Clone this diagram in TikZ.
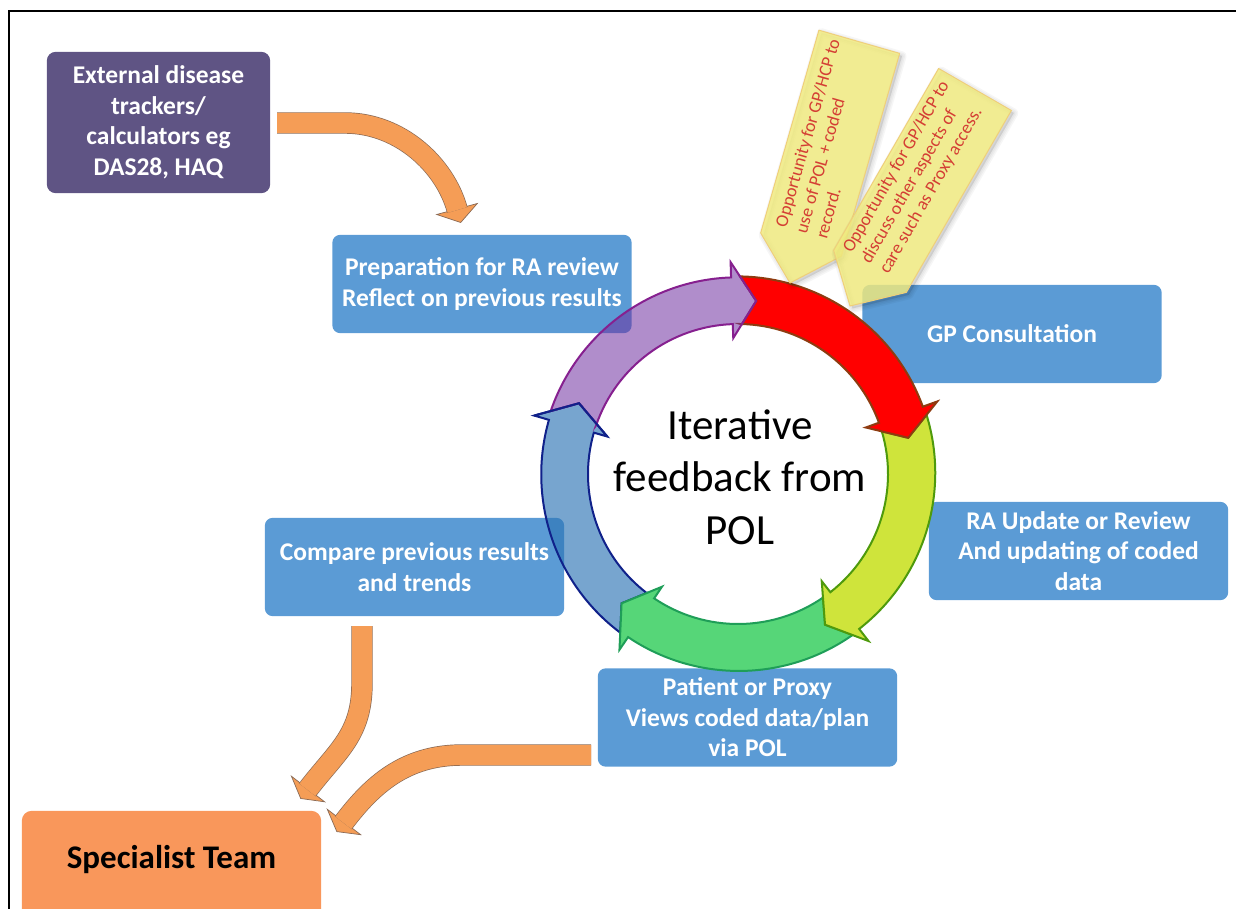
\documentclass[tikz,border=0pt]{standalone}
\usepackage{fontspec}
\setmainfont{Carlito}
\usetikzlibrary{calc}
\pgfdeclarelayer{bg}
\pgfdeclarelayer{ring}
\pgfsetlayers{bg,ring,main}
\definecolor{boxblue}{HTML}{5B9BD5}
\definecolor{boxpurple}{HTML}{5F5484}
\definecolor{orangefill}{HTML}{F59D56}
\definecolor{orangeline}{HTML}{8A6A55}
\definecolor{specorange}{HTML}{F9975B}
\definecolor{notefill}{HTML}{F4EE80}
\definecolor{noteline}{HTML}{EFCF7A}
\definecolor{notetext}{HTML}{D43E34}
\definecolor{rpurple}{HTML}{7030A0}
\definecolor{rpurpleL}{HTML}{86208F}
\definecolor{rred}{HTML}{FF0000}
\definecolor{rredL}{HTML}{8E3B10}
\definecolor{ryellow}{HTML}{CFE43B}
\definecolor{ryellowL}{HTML}{4E9A0C}
\definecolor{rgreen}{HTML}{56D678}
\definecolor{rgreenL}{HTML}{1F9E58}
\definecolor{rblue}{HTML}{2E75B6}
\definecolor{rblueL}{HTML}{10218A}
% fill, stroke, opacity, prev base, prev tip, base, tip
\newcommand\ringseg[7]{%
  \path[fill=#1, draw=#2, fill opacity=#3, line width=2pt, line join=miter]
    ($(#4:212pt)!0.368!(#5:174pt)$) arc[start angle={#4-2.95}, end angle=#6, radius=198pt]
    -- (#6:212pt) -- (#7:174pt) -- (#6:136pt) -- (#6:150pt)
    arc[start angle=#6, end angle={#4-2.95}, radius=150pt]
    -- ($(#4:136pt)!0.368!(#5:174pt)$) -- (#5:174pt) -- cycle;}
\newcommand\notepath[1]{(0,0) -- (40,-42) -- (#1,-42) -- (#1,42) -- (40,42) -- cycle}
\tikzset{
  boxtxt/.style={text=white, font=\bfseries\fontsize{25.5}{30.5}\selectfont, align=center,
    minimum width=299pt, minimum height=98pt, inner sep=0pt},
  notetxt/.style={text=notetext, font=\fontsize{18}{21}\selectfont, align=left, inner sep=0pt},
  band/.style={draw=orangeline, line width=0.7pt, double=orangefill, double distance=20pt},
  bandhead/.style={fill=orangefill, draw=orangeline, line width=0.7pt, line join=miter},
  notebox/.style={fill=notefill, fill opacity=0.82, draw=noteline, line width=1pt, line join=round},
  noteshadow/.style={draw=black, fill=black, opacity=0.035, line join=round},
}
\begin{document}
\begin{tikzpicture}[x=1pt, y=-1pt]
\useasboundingbox (0,0) rectangle (1236,909);

% boxes (text on main layer, fills on background layer)
\node[boxtxt, minimum width=223pt, minimum height=141pt] (ext) at (158.5,122.5) {External disease\\trackers/\\calculators eg\\DAS28, HAQ};
\node[boxtxt] (prep) at (482,284) {Preparation for RA review\\Reflect on previous results};
\node[boxtxt] (gp) at (1012,334) {GP Consultation};
\node[boxtxt] (ra) at (1078.5,551) {RA Update or Review\\And updating of coded\\data};
\node[boxtxt] (cmp) at (414.5,567) {Compare previous results\\and trends};
\node[boxtxt] (pat) at (747.5,717.5) {Patient or Proxy\\Views coded data/plan\\via POL};
\node[boxtxt, text=black, font=\bfseries\fontsize{33}{40}\selectfont] (spec) at (171.5,860) {Specialist Team};

\begin{pgfonlayer}{bg}
  \foreach \n in {prep,gp,ra,cmp,pat}
    \fill[boxblue, rounded corners=8pt] (\n.south west) rectangle (\n.north east);
  \fill[boxpurple, rounded corners=9pt] (ext.south west) rectangle (ext.north east);
  \fill[specorange, rounded corners=10pt] ($(spec.south west)+(0,15)$) rectangle (spec.north east);
\end{pgfonlayer}

% cycle ring
\begin{pgfonlayer}{ring}
\begin{scope}[shift={(738,474)}]
  \coordinate (ringc) at (0,0);
  \ringseg{rblue}{rblueL}{0.65}{-124}{-132}{-196}{-204}
  \ringseg{rgreen}{rgreenL}{1}{-52}{-60}{-124}{-132}
  \ringseg{ryellow}{ryellowL}{1}{20}{12}{-52}{-60}
  \ringseg{rred}{rredL}{1}{92}{84}{20}{12}
  \ringseg{rpurple}{rpurpleL}{0.55}{164}{156}{92}{84}
  \draw[rblueL, line width=2pt, line join=miter] (-196:212pt) -- (-204:174pt) -- (-196:136pt);
\end{scope}
\end{pgfonlayer}

\node[font=\fontsize{43}{52.5}\selectfont, align=center] (iter) at (740,477) {Iterative\\feedback from\\POL};

% orange curved arrows
\coordinate (aS) at (277,123);
\coordinate (aE) at (457.3,210);
\filldraw[bandhead] (477.3,203.5) -- (460.7,222.5) -- (436.7,214.5) -- cycle;
\draw[band] (aS) -- (345,123) .. controls (400,123) and (445,165) .. (aE);

\coordinate (bS) at (362,626);
\coordinate (bE) at (307.4,789.8);
\filldraw[bandhead] (324.6,801.8) -- (300.7,798.5) -- (291.4,776.2) -- cycle;
\draw[band] (bS) -- (362,683) .. controls (362,735) and (338,750) .. (bE);

\coordinate (cS) at (591,755);
\coordinate (cE) at (343.4,822.8);
\filldraw[bandhead] (360.7,834.7) -- (336.8,831.6) -- (327.3,809.3) -- cycle;
\draw[band] (cS) -- (462,755) .. controls (405,755) and (372,785) .. (cE);

% yellow notes
\begin{scope}[shift={(790,283)}, x={(0.276pt,0.961pt)}, y={(0.961pt,-0.276pt)}]
  \foreach \w in {9,6,3} \filldraw[noteshadow, line width=\w pt, xshift=2.5pt, yshift=-2.5pt] \notepath{251};
  \path[notebox] \notepath{251};
\end{scope}
\begin{scope}[shift={(850,306)}, x={(0.5pt,0.866pt)}, y={(0.866pt,-0.5pt)}]
  \foreach \w in {9,6,3} \filldraw[noteshadow, line width=\w pt, xshift=2.5pt, yshift=-2.5pt] \notepath{250};
  \path[notebox] \notepath{250};
\end{scope}
\node[notetxt, rotate=74] (n1t) at (827.5,138.7) {Opportunity for GP/HCP to\\use of POL + coded\\record.};
\node[notetxt, rotate=60] (n2t) at (914.7,177.6) {Opportunity for GP/HCP to\\discuss other aspects of\\care such as Proxy access.};

% frame
\draw[line width=2pt] (9,912) -- (9,11) -- (1238,11);
\end{tikzpicture}
\end{document}
